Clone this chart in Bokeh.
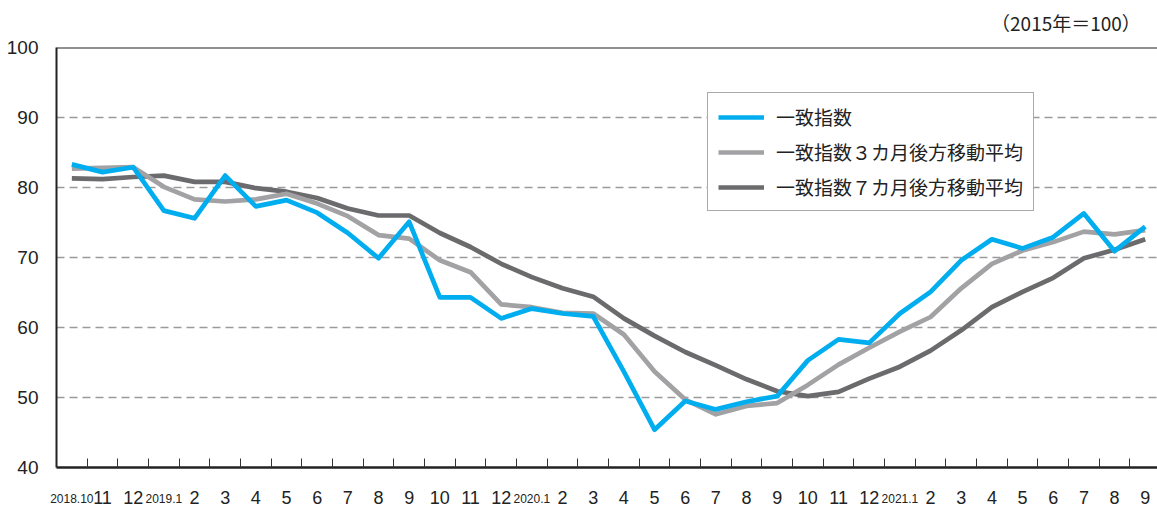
from bokeh.plotting import figure
from bokeh.models import (Range1d, FixedTicker, Legend, LegendItem, ColumnDataSource, Span,
                          LinearAxis)
from bokeh.embed import file_html
from bokeh.resources import INLINE

months = ["2018.10", "11", "12",
          "2019.1", "2", "3", "4", "5", "6", "7", "8", "9", "10", "11", "12",
          "2020.1", "2", "3", "4", "5", "6", "7", "8", "9", "10", "11", "12",
          "2021.1", "2", "3", "4", "5", "6", "7", "8", "9"]

coincident = [83.3, 82.2, 82.9, 76.7, 75.6, 81.7, 77.3, 78.2, 76.4, 73.5, 69.9, 75.1,
              64.3, 64.3, 61.3, 62.7, 62.0, 61.6, 53.7, 45.4, 49.5, 48.3, 49.4, 50.2,
              55.3, 58.3, 57.8, 62.0, 65.1, 69.6, 72.6, 71.3, 72.9, 76.3, 70.9, 74.4]

ma3 = [82.7, 82.8, 82.9, 80.1, 78.3, 78.0, 78.3, 79.1, 77.7, 75.9, 73.2, 72.7,
       69.6, 67.9, 63.3, 62.9, 62.1, 62.0, 59.0, 53.7, 49.7, 47.6, 48.8, 49.2,
       51.8, 54.7, 57.1, 59.4, 61.5, 65.6, 69.1, 71.0, 72.2, 73.7, 73.3, 73.9]

ma7 = [81.3, 81.2, 81.5, 81.7, 80.8, 80.8, 79.9, 79.4, 78.5, 77.0, 76.0, 76.0,
       73.5, 71.5, 69.1, 67.2, 65.6, 64.4, 61.3, 58.8, 56.5, 54.6, 52.6, 50.9,
       50.2, 50.8, 52.7, 54.4, 56.7, 59.6, 62.9, 65.1, 67.1, 69.9, 71.1, 72.6]

series_names = ["一致指数", "一致指数３カ月後方移動平均", "一致指数７カ月後方移動平均"]
unit_note = "（2015年＝100）"
unit_note_pos = 33.5   # horizontal anchor of the unit note, in month-index units

x = list(range(len(months)))
src = ColumnDataSource(dict(x=x, c=coincident, m3=ma3, m7=ma7))

p = figure(width=1157, height=507, x_range=Range1d(-0.5, 35.4), y_range=Range1d(40, 100),
           output_backend="svg", toolbar_location=None,
           min_border_left=56, min_border_right=0, min_border_top=47, min_border_bottom=40)
p.outline_line_color = None
p.background_fill_color = "white"
p.border_fill_color = "white"
p.title.visible = False

# grid
p.xgrid.grid_line_color = None
p.ygrid.ticker = FixedTicker(ticks=[50, 60, 70, 80, 90])
p.ygrid.grid_line_color = "#9a9a9a"
p.ygrid.grid_line_dash = "8 5"
p.ygrid.grid_line_width = 1.5

# top border
p.add_layout(Span(location=100, dimension="width", line_color="#222222", line_width=2))

# y axis
p.yaxis.ticker = FixedTicker(ticks=[40, 50, 60, 70, 80, 90, 100])
p.yaxis.major_tick_line_color = None
p.yaxis.minor_tick_line_color = None
p.yaxis.axis_line_color = "#222222"
p.yaxis.axis_line_width = 2
p.yaxis.major_label_text_font = "Liberation Sans"
p.yaxis.major_label_text_font_size = "19px"
p.yaxis.major_label_text_color = "#222222"
p.yaxis.major_label_standoff = 12

# x axis: month labels + inward ticks at month boundaries
mi = [i for i, m in enumerate(months) if "." not in m]
yi = [i for i, m in enumerate(months) if "." in m]
p.xaxis.ticker = FixedTicker(ticks=mi, minor_ticks=[i + 0.5 for i in range(len(months) - 1)])
p.xaxis.major_label_overrides = {i: months[i] for i in mi}
p.xaxis.major_tick_line_color = None
p.xaxis.major_label_text_font = "Liberation Sans"
p.xaxis.major_label_text_font_size = "18px"
p.xaxis.major_label_text_color = "#222222"
p.xaxis.major_label_standoff = 17
p.xaxis.minor_tick_in = 9
p.xaxis.minor_tick_out = 0
p.xaxis.minor_tick_line_color = "#333333"
p.xaxis.minor_tick_line_width = 1
p.xaxis.axis_line_color = "#222222"
p.xaxis.axis_line_width = 2.5

# year labels: second axis, pulled up onto the same row as the month labels
year_axis = LinearAxis(ticker=FixedTicker(ticks=yi),
                       major_label_overrides={i: months[i] for i in yi})
year_axis.axis_line_color = None
year_axis.major_tick_line_color = None
year_axis.minor_tick_line_color = None
year_axis.major_label_text_font = "Liberation Sans"
year_axis.major_label_text_font_size = "12px"
year_axis.major_label_text_color = "#222222"
year_axis.major_label_standoff = -19
p.add_layout(year_axis, "below")

# unit note above the plot area, as a single-label axis
note_axis = LinearAxis(ticker=FixedTicker(ticks=[unit_note_pos]),
                       major_label_overrides={unit_note_pos: unit_note})
note_axis.axis_line_color = None
note_axis.major_tick_line_color = None
note_axis.minor_tick_line_color = None
note_axis.major_label_text_font = "Noto Sans CJK JP"
note_axis.major_label_text_font_size = "19px"
note_axis.major_label_text_color = "#222222"
note_axis.major_label_standoff = 6
p.add_layout(note_axis, "above")

# lines
r7 = p.line("x", "m7", source=src, line_color="#6b6b6d", line_width=4.7, line_join="round")
r3 = p.line("x", "m3", source=src, line_color="#a2a2a5", line_width=4.7, line_join="round")
rc = p.line("x", "c", source=src, line_color="#00aeef", line_width=4.7, line_join="round")

legend = Legend(items=[LegendItem(label=series_names[0], renderers=[rc]),
                       LegendItem(label=series_names[1], renderers=[r3]),
                       LegendItem(label=series_names[2], renderers=[r7])],
                location=(651, 256))
legend.label_text_font = "Noto Sans CJK JP"
legend.label_text_font_size = "19px"
legend.label_text_color = "#222222"
legend.glyph_width = 46
legend.glyph_height = 20
legend.label_height = 20
legend.label_standoff = 12
legend.spacing = 8
legend.padding = 10
legend.margin = 0
legend.border_line_color = "#555555"
legend.border_line_width = 1.5
legend.background_fill_alpha = 1
p.add_layout(legend)

open("out.html", "w").write(file_html(p, INLINE))
